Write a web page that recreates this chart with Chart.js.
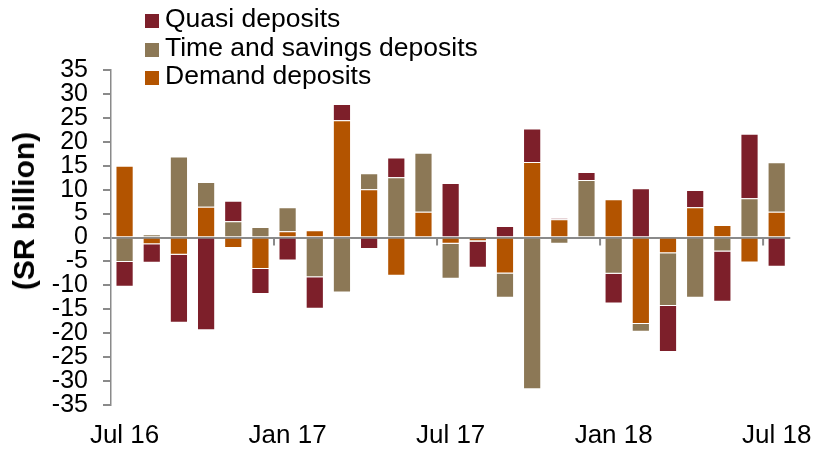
<!DOCTYPE html>
<html>
<head>
<meta charset="utf-8">
<script src="https://cdn.jsdelivr.net/npm/chart.js@4.4.1/dist/chart.umd.min.js"></script>
<style>
  html, body { margin: 0; padding: 0; background: #fff; }
  #wrap { position: relative; width: 827px; height: 450px; }
  #legend { position: absolute; left: 145px; top: 4px; font-family: "Liberation Sans", Arial, sans-serif; font-size: 26.5px; color: #000; }
  #legend .row { height: 28.7px; line-height: 28.7px; white-space: nowrap; }
  #legend .box { display: inline-block; width: 14px; height: 14px; margin-right: 6px; vertical-align: -1px; }
  #ytitle { position: absolute; left: 23.5px; top: 210.5px; transform: translate(-50%, -50%) rotate(-90deg);
            font-family: "Liberation Sans", Arial, sans-serif; font-weight: bold; font-size: 30px; line-height: 30px; white-space: nowrap; color: #000; }
</style>
</head>
<body>
<div id="wrap">
  <canvas id="bar_Chart"></canvas>
  <div id="legend"></div>
  <div id="ytitle">(SR billion)</div>
</div>
<script>
// mois : juil. 2016 -> juil. 2018
var months = ['Jul 16','Aug 16','Sep 16','Oct 16','Nov 16','Dec 16',
              'Jan 17','Feb 17','Mar 17','Apr 17','May 17','Jun 17',
              'Jul 17','Aug 17','Sep 17','Oct 17','Nov 17','Dec 17',
              'Jan 18','Feb 18','Mar 18','Apr 18','May 18','Jun 18','Jul 18'];

// variations mensuelles (SR billion)
var demand = [15.0, -1.4, -3.6, 6.4, -2.2, -6.6, 1.3, 1.5, 24.5, 10.1, -8.0, 5.4,
              -1.3, -0.8, -7.5, 15.8, 3.8, 0.0, 8.0, -18.1, -3.3, 6.3, 2.6, -5.2, 5.4];
var timeSavings = [-5.1, 0.7, 16.9, 5.2, 3.4, 2.2, 5.0, -8.3, -11.5, 3.3, 12.6, 12.3,
              -7.3, -0.1, -5.1, -31.7, -1.3, 12.0, -7.6, -1.6, -11.0, -12.6, -2.9, 8.2, 10.3];
var quasi = [-5.2, -3.9, -14.2, -19.4, 4.3, -5.2, -4.8, -6.6, 3.4, -2.4, 4.1, -0.2,
              11.4, -5.4, 2.4, 7.0, 0.2, 1.7, -6.2, 10.3, -9.6, 3.6, -10.5, 13.5, -6.1];

var yTicks = [35, 30, 25, 20, 15, 10, 5, 0, -5, -10, -15, -20, -25, -30, -35];

var axisGrey = '#8a8a8a';
Chart.defaults.font.family = '"Liberation Sans", Arial, sans-serif';
Chart.defaults.color = '#000';

// petits traits sous l'axe zéro tous les 6 mois
var halfYearTicks = {
  id: 'halfYearTicks',
  afterDraw: function(chart) {
    var x = chart.scales.x, y = chart.scales.y, ctx = chart.ctx;
    var y0 = y.getPixelForValue(0);
    ctx.save();
    ctx.strokeStyle = axisGrey;
    ctx.lineWidth = 2;
    months.forEach(function(m, i) {
      if (i > 0 && (m.indexOf('Jan') === 0 || m.indexOf('Jul') === 0)) {
        var px = (x.getPixelForValue(i - 1) + x.getPixelForValue(i)) / 2;
        ctx.beginPath();
        ctx.moveTo(px, y0);
        ctx.lineTo(px, y0 + 8);
        ctx.stroke();
      }
    });
    ctx.restore();
  }
};

var datasets = [
  { label: 'Demand deposits', data: demand, backgroundColor: '#b35400' },
  { label: 'Time and savings deposits', data: timeSavings, backgroundColor: '#8c7856' },
  { label: 'Quasi deposits', data: quasi, backgroundColor: '#7d1f2a' }
];
datasets.forEach(function(d) {
  d.borderColor = 'rgba(255,255,255,0.3)';
  d.borderWidth = 1;
  d.barPercentage = 0.67;
  d.categoryPercentage = 1.0;
});

const ctx_bar = document.getElementById('bar_Chart').getContext('2d');
var myChartBar = new Chart(ctx_bar, {
  type: 'bar',
  data: { labels: months, datasets: datasets },
  plugins: [halfYearTicks],
  options: {
    responsive: true,
    maintainAspectRatio: false,
    animation: false,
    devicePixelRatio: 1,
    layout: { padding: { top: 70, right: 31, left: 0, bottom: 0 } },
    plugins: {
      legend: { display: false },
      tooltip: { enabled: false }
    },
    scales: {
      x: {
        stacked: true,
        offset: true,
        grid: { display: false, drawTicks: false },
        border: { display: false },
        ticks: {
          autoSkip: false,
          maxRotation: 0,
          padding: 15,
          font: { size: 26 },
          callback: function(v, i) { return i % 6 === 0 ? months[i] : ''; }
        },
        afterFit: function(s) { s.height = 45; }
      },
      y: {
        stacked: true,
        min: -35,
        max: 35,
        z: 1,
        afterBuildTicks: function(s) { s.ticks = yTicks.map(function(v) { return { value: v }; }); },
        border: { display: true, color: axisGrey, width: 1.5 },
        grid: {
          color: function(c) { return c.tick && c.tick.value === 0 ? axisGrey : 'rgba(0,0,0,0)'; },
          lineWidth: 2,
          tickColor: axisGrey,
          tickLength: 8
        },
        ticks: { autoSkip: false, padding: 15, font: { size: 25 } },
        afterFit: function(s) { s.width = 111; }
      }
    }
  }
});

// légende HTML (ordre inverse, comme l'original)
var legendEl = document.getElementById('legend');
datasets.slice().reverse().forEach(function(d) {
  var row = document.createElement('div');
  row.className = 'row';
  var box = document.createElement('span');
  box.className = 'box';
  box.style.background = d.backgroundColor;
  row.appendChild(box);
  row.appendChild(document.createTextNode(d.label));
  legendEl.appendChild(row);
});
</script>
</body>
</html>
